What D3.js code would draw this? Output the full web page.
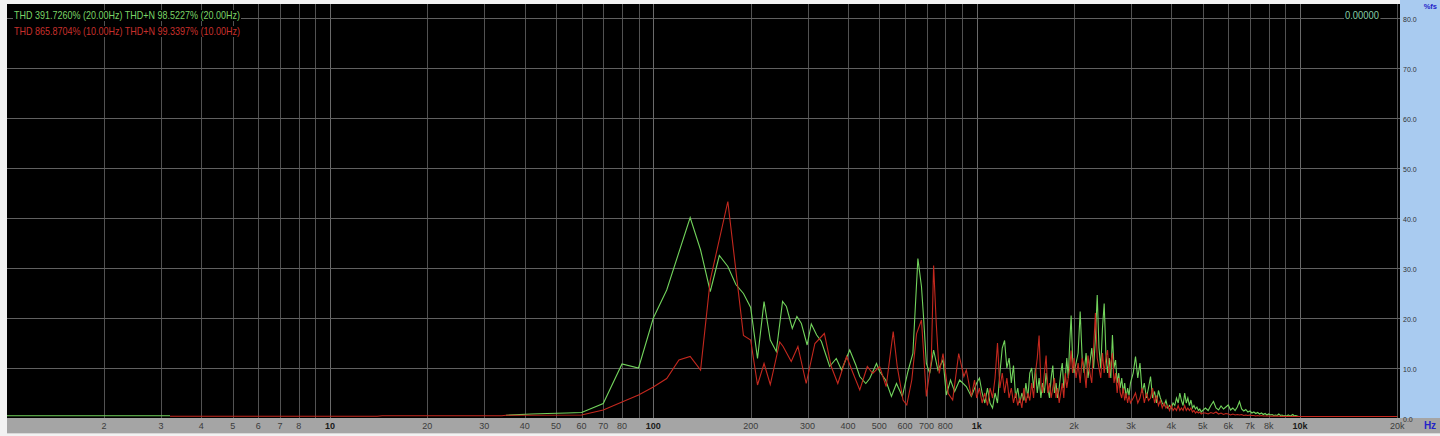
<!DOCTYPE html>
<html><head><meta charset="utf-8">
<script src="https://cdn.jsdelivr.net/npm/d3@7"></script>
<style>
html,body{margin:0;padding:0;background:#f4f4f4;overflow:hidden}
svg{display:block}
</style></head>
<body><svg id="c" width="1440" height="436"></svg>
<script>
// ---------- axis definitions ----------
const yTicks = [0, 10, 20, 30, 40, 50, 60, 70, 80];
const xTickHz = [2,3,4,5,6,7,8,10,20,30,40,50,60,70,80,100,200,300,400,500,600,700,800,1000,2000,3000,4000,5000,6000,7000,8000,10000,20000];
const xTickLabels = ["2","3","4","5","6","7","8","10","20","30","40","50","60","70","80","100","200","300","400","500","600","700","800","1k","2k","3k","4k","5k","6k","7k","8k","10k","20k"];
const boldTicks = ["10","100","1k","10k"];
const gridHz = [2,3,4,5,6,7,8,9,10,20,30,40,50,60,70,80,90,100,200,300,400,500,600,700,800,900,1000,2000,3000,4000,5000,6000,7000,8000,9000,10000,20000];

// ---------- legend texts ----------
const legendGreen = "THD 391.7260% (20.00Hz) THD+N 98.5227% (20.00Hz)";
const legendRed = "THD 865.8704% (10.00Hz) THD+N 99.3397% (10.00Hz)";
const readout = "0.00000";

// ---------- green series, low part (Hz, %fs); null = gap ----------
const greenLowHz = [1,3.2,3.3,35,42,47,54,60,70,80,90,100,110,130,140,150,160,170,180,190,200,210,220,230,240,251,258,269,278,287,299,308,320,331,343,351,368,382,405,423,435,454,467,490,501,523,545,565,589,613,635,658,675,686,699,716,736,759,787,806,830,855,886,929,963];
const greenLowPct = [0.45,0.45,null,0.55,0.8,0.9,1.0,1.1,2.9,10.8,10.0,20.0,25.6,40.1,33.6,25.3,32.5,30.3,26.7,24.9,22.1,11.9,23.3,15.6,13.3,23.3,22.3,17.9,20.3,18.9,14.6,18.8,16.6,15.3,12.3,10.3,11.9,9.6,13.6,10.6,8.3,6.9,7.9,10.9,9.3,7.6,4.3,6.9,4.3,9.3,12.9,31.9,26.3,19.6,10.9,8.9,13.6,9.6,11.6,4.6,7.6,5.3,7.6,6.3,4.3];

// ---------- red series, low part ----------
const redLowHz = [3.2,14,14.5,34,35,60,70,80,90,100,110,120,130,140,150,170,190,200,210,220,230,246,252,267,280,297,316,338,355,372,396,415,435,459,477,501,525,552,568,592,608,630,652,675,699,724,736,750,766,787,817,843,880,913,929,963,985];
const redLowPct = [0.35,0.35,0.45,0.45,0.55,0.6,1.6,3.2,4.6,6.2,7.9,11.6,12.3,9.6,27.6,43.3,16.5,15.6,6.6,10.9,6.7,15.2,14.3,11.3,14.3,6.9,14.9,16.9,10.3,6.9,12.3,8.9,5.6,10.3,8.9,10.3,6.3,17.3,10.3,3.6,2.6,7.6,16.9,19.6,4.3,11.6,30.5,18.9,8.9,12.9,4.9,3.6,12.9,8.3,9.6,4.3,7.6];

// ---------- high-frequency part, shared bins ----------
const hfHz = [
 1000,1020,1040,1060,1080,1100,1120,1140,1160,1180,1200,1220,1240,1260,1280,1300,1320,1340,1360,1380,1400,1420,1440,1460,1480,1500,1520,1540,1560,1580,1600,1620,1640,1660,1680,1700,1720,1740,1760,1780,1800,1820,1840,1860,1880,1900,1920,1940,1960,1980,2000,
 2030,2060,2090,2120,2150,2180,2210,2240,2270,2300,2330,2360,2390,2420,2450,2480,2510,2540,2570,2600,2630,2660,2690,2720,2750,2780,2810,2840,2870,2900,2930,2960,2990,
 3050,3100,3150,3200,3250,3300,3350,3400,3450,3500,3550,3600,3650,3700,3750,3800,3850,3900,3950,4000,4050,4100,4150,4200,4250,4300,4350,4400,4450,4500,4550,4600,4650,4700,4750,4800,4850,4900,4950,5000,
 5100,5200,5300,5400,5500,5600,5700,5800,5900,6000,6100,6200,6300,6400,6500,6600,6700,6800,6900,7000,7100,7200,7300,7400,7500,7600,7700,7800,7900,8000,8100,8200,8300,8400,8500,8600,8700,8800,8900,9000,9100,9200,9300,9400,9500,9600,9700,9800,9900,10000,
 10500,11000,11500,12000,12500,13000,13500,14000,14500,15000,15500,16000,16500,17000,17500,18000,18500,19000,19500,20000];
const greenHfPct = [
 7,8,5,3,6,3,2,5,3,9,14,15.5,10,12,7,10.5,4,6,3,5,3.5,7,4,9,10,6,10,5,8,4,7,5,9,6,4,8,10.5,5,7,4,6,9,11,6,8,12,8,15,20.5,12,9,
 11,13,21.3,12,9,13,8,11,14,10,16,24.6,14,10,18,22.9,13,9,12,8,16.6,10,11.6,7,9,6,8,5,7,4,6,4.5,7,
 9,12.3,8,11,5,7,4,6,8.3,4,5.3,3,5.5,4,3,2.5,3.5,2,2.5,2,3,2.5,4,3,5,3.5,2.5,5,3,4,2.5,3.6,2,2.5,1.8,2.2,1.5,1.8,1.2,1.5,
 2,1.5,2.5,3.3,2,1.6,2.4,1.8,2.2,2.6,1.6,2,1.5,2.2,3.3,1.8,1.4,1.7,1.2,1.4,1,1.2,0.9,1.1,0.8,1,0.7,0.9,0.6,0.8,0.6,0.7,0.5,0.6,0.5,0.8,0.5,0.6,0.4,0.5,0.4,0.6,0.4,0.5,0.7,0.4,0.5,0.4,0.3,0.3,
 0.3,0.3,0.3,0.3,0.3,0.3,0.3,0.3,0.3,0.3,0.3,0.3,0.3,0.3,0.3,0.3,0.3,0.3,0.3,0.3];
const redHfPct = [
 4,6,3,5,2.5,6,4,8,15,6,9,5,8,4,6,3,5,2.5,4,2,6,3,5,3.5,7,4,9,12,16.5,7,5,9,12.5,5,7,4,6,8,4,6,3,5,7,4,9,6,8,10,13.5,9,12,
 8,11,7,12,10,6,12.5,9,7,14,21,12,10,8,13,9,12,13.6,8,11,13,7,9,5,8,5,4,6,3.5,5,3,4.5,3,
 4,5,3,4,6,3,5,3.5,4,6,3,4.5,2.5,3.5,2,3,2,2.5,1.5,2.5,1.5,2,1.5,2.5,1.5,2,1.5,2.5,1.5,2,1.5,2,1.2,1.5,1,1.3,1,1.2,0.8,1,
 1,0.8,1.1,0.9,1.2,0.8,1,0.7,0.9,0.8,0.6,0.8,0.6,0.7,0.6,0.7,0.5,0.6,0.5,0.6,0.5,0.5,0.4,0.5,0.4,0.5,0.4,0.4,0.4,0.4,0.35,0.4,0.35,0.4,0.35,0.4,0.3,0.35,0.3,0.35,0.3,0.35,0.3,0.3,0.35,0.3,0.3,0.3,0.3,0.3,
 0.3,0.3,0.3,0.3,0.3,0.3,0.3,0.3,0.3,0.3,0.3,0.3,0.3,0.3,0.3,0.3,0.3,0.3,0.3,0.3];

// ---------- build ----------
const zip = (hz, v) => hz.map((h, i) => [h, v[i]]);
const greenData = zip(greenLowHz, greenLowPct).concat(zip(hfHz, greenHfPct));
const redData = zip(redLowHz, redLowPct).concat(zip(hfHz, redHfPct));

const svg = d3.select("#c");
const P = {l: 7, r: 1400, t: 4, b: 418};
const x = d3.scaleLog().domain([1, 20000]).range([6.7, 1397.3]);
const y = d3.scaleLinear().domain([0, 80]).range([418, 18]);

svg.append("rect").attr("x",0).attr("y",0).attr("width",1440).attr("height",436).attr("fill","#f2f2f2");
svg.append("rect").attr("x",P.l).attr("y",P.t).attr("width",P.r-P.l).attr("height",P.b-P.t).attr("fill","#000");
svg.append("rect").attr("x",P.r).attr("y",0).attr("width",40).attr("height",P.b).attr("fill","#a9cbf0");
svg.append("rect").attr("x",P.l).attr("y",P.b).attr("width",1440-P.l).attr("height",15).attr("fill","#a5a5a5");
svg.append("line").attr("x1",P.l).attr("x2",1440).attr("y1",433.5).attr("y2",433.5).attr("stroke","#d8d8d8");

// grid
const grid = svg.append("g");
grid.selectAll("line.v").data(gridHz).join("line")
  .attr("x1", d => Math.round(x(d)) + 0.5).attr("x2", d => Math.round(x(d)) + 0.5)
  .attr("y1", P.t).attr("y2", P.b)
  .attr("stroke", d => [10,100,1000,10000].includes(d) ? "#6a6a6a" : "#525252").attr("stroke-width", 1);
grid.selectAll("line.h").data(yTicks.filter(d => d > 0)).join("line")
  .attr("x1", P.l).attr("x2", P.r)
  .attr("y1", d => Math.round(y(d)) + 0.5).attr("y2", d => Math.round(y(d)) + 0.5)
  .attr("stroke", "#606060").attr("stroke-width", 1);

// series
svg.append("clipPath").attr("id","pc").append("rect")
  .attr("x",P.l).attr("y",P.t).attr("width",P.r-P.l).attr("height",P.b-P.t);
const line = d3.line().defined(d => d[1] != null).x(d => x(d[0])).y(d => y(d[1]));
const series = svg.append("g").attr("clip-path","url(#pc)");
series.append("path").datum(greenData).attr("d", line).attr("fill","none").attr("stroke","#72d35c").attr("stroke-width",1.1);
series.append("path").datum(redData).attr("d", line).attr("fill","none").attr("stroke","#c4281e").attr("stroke-width",1.1);

// x labels
const xl = svg.append("g").attr("font-family","Liberation Sans, Arial, sans-serif").attr("font-size",9);
xl.selectAll("text").data(xTickHz).join("text")
  .attr("x", d => x(d)).attr("y", 428.5).attr("text-anchor","middle")
  .attr("font-weight", (d,i) => boldTicks.includes(xTickLabels[i]) ? "bold" : "normal")
  .attr("fill", (d,i) => boldTicks.includes(xTickLabels[i]) ? "#1a1a1a" : "#3c3c3c")
  .text((d,i) => xTickLabels[i]);
svg.append("text").attr("x",1430).attr("y",429).attr("text-anchor","middle")
  .attr("font-family","Liberation Sans, Arial, sans-serif").attr("font-size",10).attr("font-weight","bold")
  .attr("fill","#2323c8").text("Hz");

// y labels
const yl = svg.append("g").attr("font-family","Liberation Sans, Arial, sans-serif").attr("font-size",7);
yl.selectAll("text").data(yTicks).join("text")
  .attr("x", 1403).attr("y", d => y(d) + 4)
  .attr("fill","#333").text(d => d.toFixed(1));
svg.append("text").attr("x",1437).attr("y",9).attr("text-anchor","end")
  .attr("font-family","Liberation Sans, Arial, sans-serif").attr("font-size",7.5).attr("font-weight","bold")
  .attr("fill","#2323c8").text("%fs");

// legend
function label(txt, xx, yy, col, len, size) {
  const t = svg.append("text").attr("x", xx).attr("y", yy)
    .attr("font-family","Liberation Sans, Arial, sans-serif").attr("font-size", size)
    .attr("fill", col).attr("textLength", len).attr("lengthAdjust","spacingAndGlyphs").text(txt);
  const b = t.node().getBBox();
  svg.insert("rect", () => t.node()).attr("x", b.x - 1).attr("y", b.y + 1).attr("width", b.width + 2).attr("height", b.height - 1).attr("fill","#000");
  return t;
}
label(legendGreen, 14, 19, "#7ad466", 226, 10.5);
label(legendRed, 14, 35, "#c8302c", 226, 10.5);
label(readout, 1345, 19, "#86cca6", 34, 10);
</script>
</body></html>
